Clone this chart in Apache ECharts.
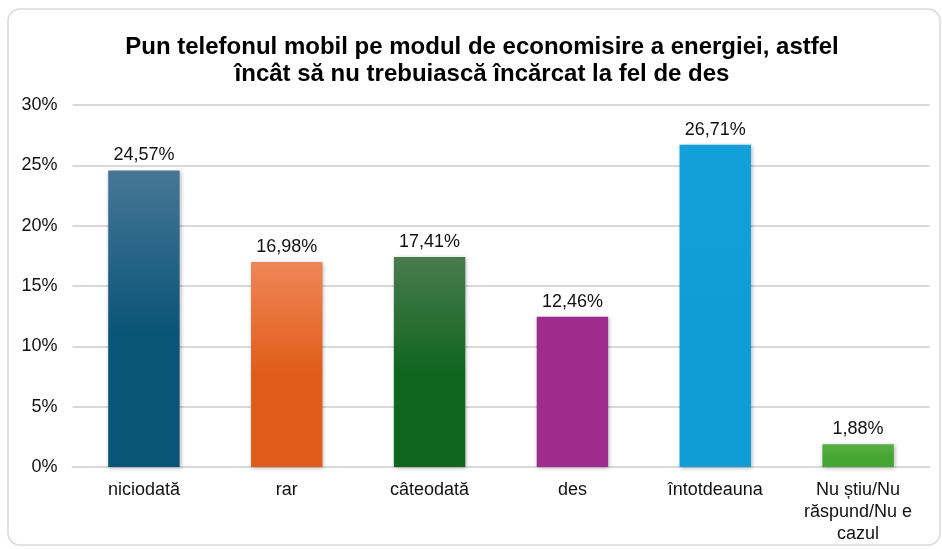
<!DOCTYPE html>
<html>
<head>
<meta charset="utf-8">
<style>
  html, body { margin: 0; padding: 0; background: #ffffff; }
  #chart { width: 942px; height: 549px; }
</style>
<script src="https://cdn.jsdelivr.net/npm/echarts@6/dist/echarts.min.js"></script>
</head>
<body>
<div id="chart"></div>
<script>
// Answer categories and shares (percent)
const categories = ['niciodată', 'rar', 'câteodată', 'des', 'întotdeauna', 'Nu știu/Nu\nrăspund/Nu e\ncazul'];
const values = [24.57, 16.98, 17.41, 12.46, 26.71, 1.88];
const yTicks = [0, 5, 10, 15, 20, 25, 30];

// Top and bottom colour of each bar's vertical gradient
const barTop = ['#477697', '#ef8657', '#4a7b4e', '#9e2b8d', '#139fd7', '#58b046'];
const barBottom = ['#0a5577', '#e05c18', '#10661f', '#9e2b8d', '#109cd5', '#45a531'];

const chart = echarts.init(document.getElementById('chart'), null, { renderer: 'canvas' });

const font = '"Liberation Sans", Arial, sans-serif';

const barData = values.map((v, i) => ({
  value: v,
  itemStyle: {
    color: new echarts.graphic.LinearGradient(0, 0, 0, 1, [
      { offset: 0, color: barTop[i] },
      { offset: 0.55, color: barBottom[i] },
      { offset: 1, color: barBottom[i] }
    ])
  }
}));

chart.setOption({
  animation: false,
  backgroundColor: '#ffffff',
  graphic: [{
    type: 'rect',
    shape: { x: 8, y: 9, width: 932, height: 536, r: 12 },
    style: { fill: 'none', stroke: '#d9d9d9', lineWidth: 1.5 },
    z: -1
  }],
  title: {
    text: 'Pun telefonul mobil pe modul de economisire a energiei, astfel\nîncât să nu trebuiască încărcat la fel de des',
    left: 477,
    textAlign: 'center',
    top: 29,
    textStyle: {
      fontFamily: font,
      fontSize: 24,
      fontWeight: 'bold',
      color: '#000000',
      lineHeight: 27
    }
  },
  grid: {
    left: 72.5,
    right: 12.5,
    top: 105,
    bottom: 82,
    containLabel: false
  },
  xAxis: {
    type: 'category',
    data: categories,
    axisLine: { show: true, lineStyle: { color: '#d9d9d9', width: 2 } },
    axisTick: { show: false },
    axisLabel: {
      fontFamily: font,
      fontSize: 18,
      color: '#111111',
      lineHeight: 22,
      margin: 12,
      interval: 0
    }
  },
  yAxis: {
    type: 'value',
    min: yTicks[0],
    max: yTicks[yTicks.length - 1],
    interval: 5,
    axisLine: { show: false },
    axisTick: { show: false },
    splitLine: { lineStyle: { color: '#d9d9d9', width: 2 } },
    axisLabel: {
      fontFamily: font,
      fontSize: 18,
      color: '#111111',
      margin: 15,
      formatter: v => v + '%'
    }
  },
  series: [{
    type: 'bar',
    data: barData,
    barWidth: '50%',
    itemStyle: {
      shadowColor: 'rgba(0,0,0,0.3)',
      shadowBlur: 4,
      shadowOffsetX: 1,
      shadowOffsetY: 1
    },
    label: {
      show: true,
      position: 'top',
      distance: 6,
      fontFamily: font,
      fontSize: 18,
      color: '#111111',
      formatter: p => p.value.toFixed(2).replace('.', ',') + '%'
    }
  }]
});
</script>
</body>
</html>
